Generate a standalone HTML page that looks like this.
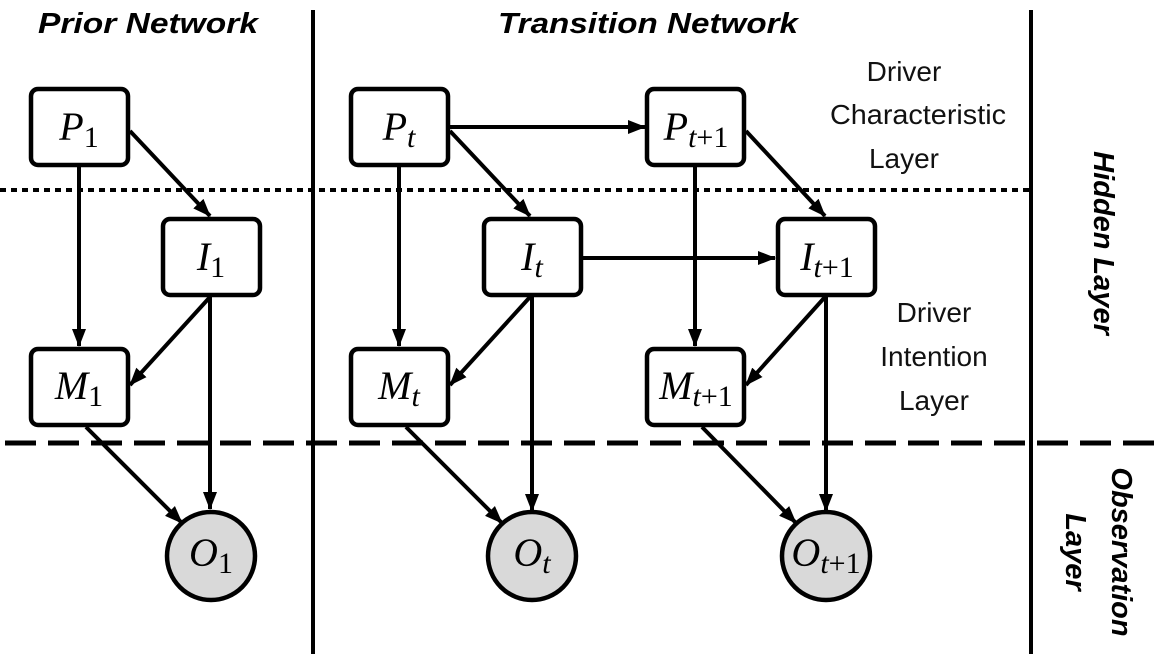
<!DOCTYPE html>
<html><head><meta charset="utf-8"><style>
html,body{margin:0;padding:0;background:#fff;}
svg{display:block;}
.h{font-family:"Liberation Sans",sans-serif;font-weight:bold;font-style:italic;font-size:29px;}
.l{font-family:"Liberation Sans",sans-serif;font-size:28px;fill:#111;}
.m{font-family:"Liberation Serif",serif;font-style:italic;font-size:40px;}
.s{font-size:30px;}
.n{font-style:normal;}
</style></head><body>
<svg width="1166" height="670" viewBox="0 0 1166 670" xmlns="http://www.w3.org/2000/svg">
<defs>
<marker id="b" markerWidth="18" markerHeight="14" refX="17" refY="7" orient="auto" markerUnits="userSpaceOnUse"><path d="M0,0 L18,7 L0,14 z" fill="#000"/></marker></defs>
<text class="h" x="38" y="33" textLength="220" lengthAdjust="spacingAndGlyphs">Prior Network</text>
<text class="h" x="498" y="33" textLength="300" lengthAdjust="spacingAndGlyphs">Transition Network</text>
<line x1="313" y1="10" x2="313" y2="654" stroke="#000" stroke-width="4"/>
<line x1="1031" y1="10" x2="1031" y2="654" stroke="#000" stroke-width="4"/>
<line x1="0" y1="190" x2="1031" y2="190" stroke="#000" stroke-width="4" stroke-dasharray="6 5"/>
<line x1="5" y1="443" x2="1166" y2="443" stroke="#000" stroke-width="5" stroke-dasharray="31 12"/>
<g class="l" text-anchor="middle">
<text x="904" y="81">Driver</text><text x="918" y="124" textLength="176" lengthAdjust="spacingAndGlyphs">Characteristic</text><text x="904" y="168">Layer</text>
<text x="934" y="322">Driver</text><text x="934" y="366">Intention</text><text x="934" y="410">Layer</text>
</g>
<text class="h" transform="translate(1094,243) rotate(90)" text-anchor="middle" font-size="27">Hidden Layer</text>
<text class="h" transform="translate(1112,552) rotate(90)" text-anchor="middle" font-size="27">Observation</text>
<text class="h" transform="translate(1066,552) rotate(90)" text-anchor="middle" font-size="27">Layer</text>
<g stroke="#000" stroke-width="4" fill="none">
<line x1="79" y1="166" x2="79" y2="346" marker-end="url(#b)"/>
<line x1="130" y1="131" x2="210" y2="216" marker-end="url(#b)"/>
<line x1="210" y1="297" x2="130" y2="385" marker-end="url(#b)"/>
<line x1="210" y1="297" x2="210" y2="509" marker-end="url(#b)"/>
<line x1="86" y1="427" x2="182" y2="523" marker-end="url(#b)"/>
<line x1="399" y1="166" x2="399" y2="346" marker-end="url(#b)"/>
<line x1="450" y1="131" x2="530" y2="216" marker-end="url(#b)"/>
<line x1="530" y1="297" x2="450" y2="385" marker-end="url(#b)"/>
<line x1="532" y1="297" x2="532" y2="511" marker-end="url(#b)"/>
<line x1="406" y1="427" x2="502" y2="523" marker-end="url(#b)"/>
<line x1="450" y1="127" x2="645" y2="127" marker-end="url(#b)"/>
<line x1="583" y1="258" x2="775" y2="258" marker-end="url(#b)"/>
<line x1="695" y1="166" x2="695" y2="346" marker-end="url(#b)"/>
<line x1="746" y1="131" x2="825" y2="216" marker-end="url(#b)"/>
<line x1="825" y1="297" x2="746" y2="385" marker-end="url(#b)"/>
<line x1="826" y1="297" x2="826" y2="511" marker-end="url(#b)"/>
<line x1="702" y1="427" x2="796" y2="523" marker-end="url(#b)"/>
</g>
<g stroke="#000" stroke-width="4.5" fill="#fff">
<rect x="31" y="89" width="97" height="76" rx="7"/>
<rect x="163" y="219" width="97" height="76" rx="7"/>
<rect x="31" y="349" width="97" height="76" rx="7"/>
<rect x="351" y="89" width="97" height="76" rx="7"/>
<rect x="484" y="219" width="97" height="76" rx="7"/>
<rect x="351" y="349" width="97" height="76" rx="7"/>
<rect x="647" y="89" width="97" height="76" rx="7"/>
<rect x="778" y="219" width="97" height="76" rx="7"/>
<rect x="647" y="349" width="97" height="76" rx="7"/>
<circle cx="211" cy="556" r="44" fill="#d9d9d9"/>
<circle cx="532" cy="556" r="44" fill="#d9d9d9"/>
<circle cx="826" cy="556" r="44" fill="#d9d9d9"/>
</g>
<g class="m" text-anchor="middle">
<text x="79" y="140">P<tspan class="s n" dy="7">1</tspan></text>
<text x="211" y="270">I<tspan class="s n" dy="7">1</tspan></text>
<text x="79" y="399">M<tspan class="s n" dy="7">1</tspan></text>
<text x="211" y="566">O<tspan class="s n" dy="7">1</tspan></text>
<text x="399" y="140">P<tspan class="s" dy="7">t</tspan></text>
<text x="532" y="270">I<tspan class="s" dy="7">t</tspan></text>
<text x="399" y="399">M<tspan class="s" dy="7">t</tspan></text>
<text x="532" y="566">O<tspan class="s" dy="7">t</tspan></text>
<text x="696" y="140">P<tspan class="s" dy="7">t</tspan><tspan class="s n">+1</tspan></text>
<text x="827" y="270">I<tspan class="s" dy="7">t</tspan><tspan class="s n">+1</tspan></text>
<text x="696" y="399">M<tspan class="s" dy="7">t</tspan><tspan class="s n">+1</tspan></text>
<text x="826" y="566">O<tspan class="s" dy="7">t</tspan><tspan class="s n">+1</tspan></text>
</g>
</svg>
</body></html>
